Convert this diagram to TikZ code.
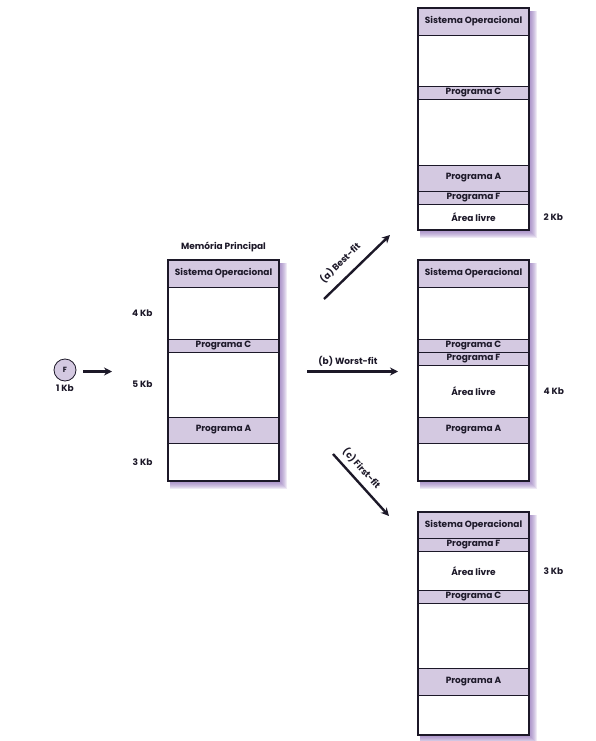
\documentclass[tikz,border=0pt]{standalone}
\usepackage{fontspec}
\setmainfont{Poppins}
\usepackage{tikz}
\usetikzlibrary{positioning}
\usetikzlibrary{arrows.meta}
\usetikzlibrary{backgrounds}

\definecolor{band}{HTML}{D4C9E1}
\definecolor{ink}{HTML}{1C1828}
\definecolor{glow}{HTML}{8B6BB5}

\tikzset{
    cell/.style={draw=ink, line width=0.7pt, minimum width=111pt, inner sep=0pt, outer sep=0pt,
        anchor=north west, font=\bfseries\fontsize{9}{10}\selectfont, text=ink},
    prog/.style={cell, fill=band},
    free/.style={cell, fill=white},
    frame/.style={draw=ink, line width=2.8pt},
    kb/.style={font=\bfseries\fontsize{9}{10}\selectfont, text=ink},
    fatarrow/.style={draw=ink, line width=2.4pt, -{Stealth[length=8pt,width=8pt]}},
}

% soft purple glow right and below a memory column
\newcommand{\memglow}[2]{%
    \foreach \s in {1,...,8}
        \fill[glow, opacity=0.15] ([shift={(2,3)}]#1.north west) rectangle ([shift={(\s,\s)}]#2.south east);
}

\begin{document}
\begin{tikzpicture}[x=1pt,y=-1pt]
        \useasboundingbox (0,0) rectangle (595,741);

        % process F
        \node[draw=ink, fill=band, circle, minimum size=22pt, inner sep=0pt, line width=0.8pt,
            font=\bfseries\fontsize{7.5}{8}\selectfont, text=ink] (fc) at (65,370) {F};
        \node[kb, below=0pt of fc] (fkb) {1 Kb};
        \coordinate (fa) at (83,371.5);
        \coordinate (fb) at (112,371.5);
        \draw[fatarrow] (fa) -- (fb);

        % main memory
        \node[prog, minimum height=27pt] (mso) at (168,260) {Sistema Operacional};
        \node[free, minimum height=52pt, below=0pt of mso] (mf1) {};
        \node[prog, minimum height=13pt, below=0pt of mf1] (mpc) {Programa C};
        \node[free, minimum height=65pt, below=0pt of mpc] (mf2) {};
        \node[prog, minimum height=26pt, below=0pt of mf2] (mpa) {Programa A};
        \node[free, minimum height=38pt, below=0pt of mpa] (mf3) {};
        \draw[frame] (mso.north west) rectangle (mf3.south east);
        \node[kb, above=5pt of mso] (mtitle) {Memória Principal};
        \node[kb, left=12pt of mf1] (k4) {4 Kb};
        \node[kb, left=12pt of mf2] (k5) {5 Kb};
        \node[kb, left=12pt of mf3] (k3) {3 Kb};

        % (a) best-fit
        \node[prog, minimum height=27pt] (aso) at (418,8) {Sistema Operacional};
        \node[free, minimum height=51pt, below=0pt of aso] (af1) {};
        \node[prog, minimum height=13pt, below=0pt of af1] (apc) {Programa C};
        \node[free, minimum height=66pt, below=0pt of apc] (af2) {};
        \node[prog, minimum height=26pt, below=0pt of af2] (apa) {Programa A};
        \node[prog, minimum height=13pt, below=0pt of apa] (apf) {Programa F};
        \node[free, minimum height=26pt, below=0pt of apf] (alv) {Área livre};
        \draw[frame] (aso.north west) rectangle (alv.south east);
        \node[kb, right=11pt of alv] (k2) {2 Kb};

        % (b) worst-fit
        \node[prog, minimum height=27pt] (bso) at (418,260) {Sistema Operacional};
        \node[free, minimum height=52pt, below=0pt of bso] (bf1) {};
        \node[prog, minimum height=13pt, below=0pt of bf1] (bpc) {Programa C};
        \node[prog, minimum height=13pt, below=0pt of bpc] (bpf) {Programa F};
        \node[free, minimum height=52pt, below=0pt of bpf] (blv) {Área livre};
        \node[prog, minimum height=26pt, below=0pt of blv] (bpa) {Programa A};
        \node[free, minimum height=38pt, below=0pt of bpa] (bf3) {};
        \draw[frame] (bso.north west) rectangle (bf3.south east);
        \node[kb, right=11pt of blv] (kb4) {4 Kb};

        % (c) first-fit
        \node[prog, minimum height=26pt] (cso) at (418,512) {Sistema Operacional};
        \node[prog, minimum height=13.5pt, below=0pt of cso] (cpf) {Programa F};
        \node[free, minimum height=38.5pt, below=0pt of cpf] (clv) {Área livre};
        \node[prog, minimum height=13pt, below=0pt of clv] (cpc) {Programa C};
        \node[free, minimum height=65pt, below=0pt of cpc] (cf2) {};
        \node[prog, minimum height=27pt, below=0pt of cf2] (cpa) {Programa A};
        \node[free, minimum height=40pt, below=0pt of cpa] (cf3) {};
        \draw[frame] (cso.north west) rectangle (cf3.south east);
        \node[kb, right=11pt of clv] (kc3) {3 Kb};

        \begin{scope}[on background layer]
            \memglow{mso}{mf3}
            \memglow{aso}{alv}
            \memglow{bso}{bf3}
            \memglow{cso}{cf3}
        \end{scope}

        % strategies
        \coordinate (bfs) at (324,299);
        \coordinate (bfe) at (390,235);
        \coordinate (wfs) at (307,371.5);
        \coordinate (wfe) at (398,371.5);
        \coordinate (ffs) at (333,454);
        \coordinate (ffe) at (389,516);
        \draw[fatarrow] (bfs) -- node[kb, sloped, above=5pt, pos=0.4] {(a) Best-fit} (bfe);
        \draw[fatarrow] (wfs) -- node[kb, above=1pt, pos=0.45] {(b) Worst-fit} (wfe);
        \draw[fatarrow] (ffs) -- node[kb, sloped, above=2pt, pos=0.36] {(c) First-fit} (ffe);
    \end{tikzpicture}
\end{document}
